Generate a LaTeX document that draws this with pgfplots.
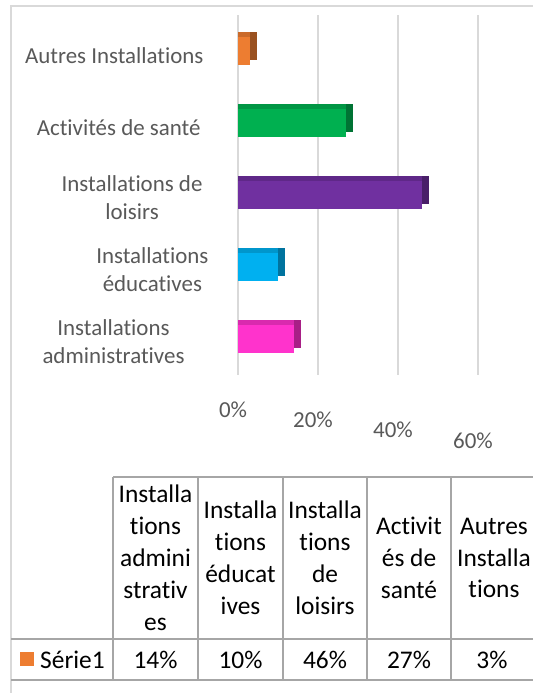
\documentclass[border=0pt]{standalone}
\usepackage{pgfplots}
\pgfplotsset{compat=1.18}
\usepackage{fontspec}
\setmainfont{Carlito}[Ligatures=NoCommon]
\definecolor{txtgray}{HTML}{595959}
\definecolor{gridgray}{HTML}{D9D9D9}
\definecolor{framegray}{HTML}{D9D9D9}
\definecolor{tabgray}{HTML}{A6A6A6}
\definecolor{cpink}{HTML}{FF33CC}
\definecolor{cpinkm}{HTML}{D92AAE}
\definecolor{cpinkd}{HTML}{A81F86}
\definecolor{cblue}{HTML}{00B0F0}
\definecolor{cbluem}{HTML}{0096CC}
\definecolor{cblued}{HTML}{00739E}
\definecolor{cpurple}{HTML}{7030A0}
\definecolor{cpurplem}{HTML}{5F2888}
\definecolor{cpurpled}{HTML}{491F69}
\definecolor{cgreen}{HTML}{00B050}
\definecolor{cgreenm}{HTML}{009644}
\definecolor{cgreend}{HTML}{007334}
\definecolor{corange}{HTML}{ED7D31}
\definecolor{corangem}{HTML}{CA6A2A}
\definecolor{coranged}{HTML}{9A5120}
\begin{document}
\begin{tikzpicture}[x=1bp,y=1bp]
\clip (0,0) rectangle (533,693);
\fill[white] (0,0) rectangle (533,693);
\draw[framegray, line width=1.5bp] (11,-5) -- (11,687) -- (540,687);
\begin{axis}[
  at={(238bp,318bp)}, anchor=south west,
  scale only axis, width=240bp, height=360bp,
  xmin=0, xmax=0.6, ymin=-0.5, ymax=4.5,
  axis line style={draw=none}, major tick style={draw=none},
  xtick={0,0.2,0.4,0.6},
  xticklabels={0\%,\raisebox{-10bp}{20\%},\raisebox{-20bp}{40\%},\raisebox{-31bp}{60\%}},
  xmajorgrids, grid style={gridgray, line width=1.2bp},
  xticklabel style={anchor=base, yshift=-43bp, xshift=-5bp, font=\fontsize{23}{28}\selectfont, text=txtgray},
  ytick={0,1,2,3,4},
  yticklabels={
    {\begin{tabular}{@{}c@{}}Installations\\administratives\end{tabular}\hspace*{22bp}},
    {\begin{tabular}{@{}c@{}}Installations\\éducatives\end{tabular}\hspace*{-2bp}},
    {\begin{tabular}{@{}c@{}}Installations de\\loisirs\end{tabular}\hspace*{4bp}},
    {Activités de santé\hspace*{6bp}},
    {Autres Installations\hspace*{3bp}}},
  yticklabel style={anchor=east, xshift=-28bp, yshift=-5bp, font=\fontsize{23}{28}\selectfont, text=txtgray},
  clip=false,
]
\addplot[xbar, bar shift=0pt, bar width=28bp, fill=cpinkd, draw=none, xshift=7bp, yshift=5bp] coordinates {(0.14,0)};
\addplot[xbar, bar shift=0pt, bar width=28bp, fill=cpinkm, draw=none, yshift=5bp] coordinates {(0.14,0)};
\addplot[xbar, bar shift=0pt, bar width=28bp, fill=cpink, draw=none] coordinates {(0.14,0)};
\addplot[xbar, bar shift=0pt, bar width=28bp, fill=cblued, draw=none, xshift=7bp, yshift=5bp] coordinates {(0.10,1)};
\addplot[xbar, bar shift=0pt, bar width=28bp, fill=cbluem, draw=none, yshift=5bp] coordinates {(0.10,1)};
\addplot[xbar, bar shift=0pt, bar width=28bp, fill=cblue, draw=none] coordinates {(0.10,1)};
\addplot[xbar, bar shift=0pt, bar width=28bp, fill=cpurpled, draw=none, xshift=7bp, yshift=5bp] coordinates {(0.46,2)};
\addplot[xbar, bar shift=0pt, bar width=28bp, fill=cpurplem, draw=none, yshift=5bp] coordinates {(0.46,2)};
\addplot[xbar, bar shift=0pt, bar width=28bp, fill=cpurple, draw=none] coordinates {(0.46,2)};
\addplot[xbar, bar shift=0pt, bar width=28bp, fill=cgreend, draw=none, xshift=7bp, yshift=5bp] coordinates {(0.27,3)};
\addplot[xbar, bar shift=0pt, bar width=28bp, fill=cgreenm, draw=none, yshift=5bp] coordinates {(0.27,3)};
\addplot[xbar, bar shift=0pt, bar width=28bp, fill=cgreen, draw=none] coordinates {(0.27,3)};
\addplot[xbar, bar shift=0pt, bar width=28bp, fill=coranged, draw=none, xshift=7bp, yshift=5bp] coordinates {(0.03,4)};
\addplot[xbar, bar shift=0pt, bar width=28bp, fill=corangem, draw=none, yshift=5bp] coordinates {(0.03,4)};
\addplot[xbar, bar shift=0pt, bar width=28bp, fill=corange, draw=none] coordinates {(0.03,4)};
\end{axis}
% data table
\draw[tabgray, line width=2bp] (113,216) -- (540,216);
\draw[tabgray, line width=2bp] (11,54) -- (540,54);
\draw[tabgray, line width=2bp] (11,13) -- (540,13);
\foreach \xx in {113,198,283,367,451} \draw[tabgray, line width=2bp] (\xx,216) -- (\xx,13);
\begin{scope}[every node/.style={align=center, font=\fontsize{25.5}{32}\selectfont, text=black, inner sep=0pt}]
\node at (155.5,135) {Installa\\tions\\admini\\strativ\\es};
\node at (240.5,135) {Installa\\tions\\éducat\\ives};
\node at (325,135) {Installa\\tions\\de\\loisirs};
\node at (409,135) {Activit\\és de\\santé};
\node at (494,135) {Autres\\Installa\\tions};
\node at (155.5,33.5) {14\%};
\node at (240.5,33.5) {10\%};
\node at (325,33.5) {46\%};
\node at (409,33.5) {27\%};
\node at (492,33.5) {3\%};
\node[anchor=west] at (40,33.5) {Série1};
\end{scope}
\fill[corange] (20,26.5) rectangle (34,40.5);
\end{tikzpicture}
\end{document}
